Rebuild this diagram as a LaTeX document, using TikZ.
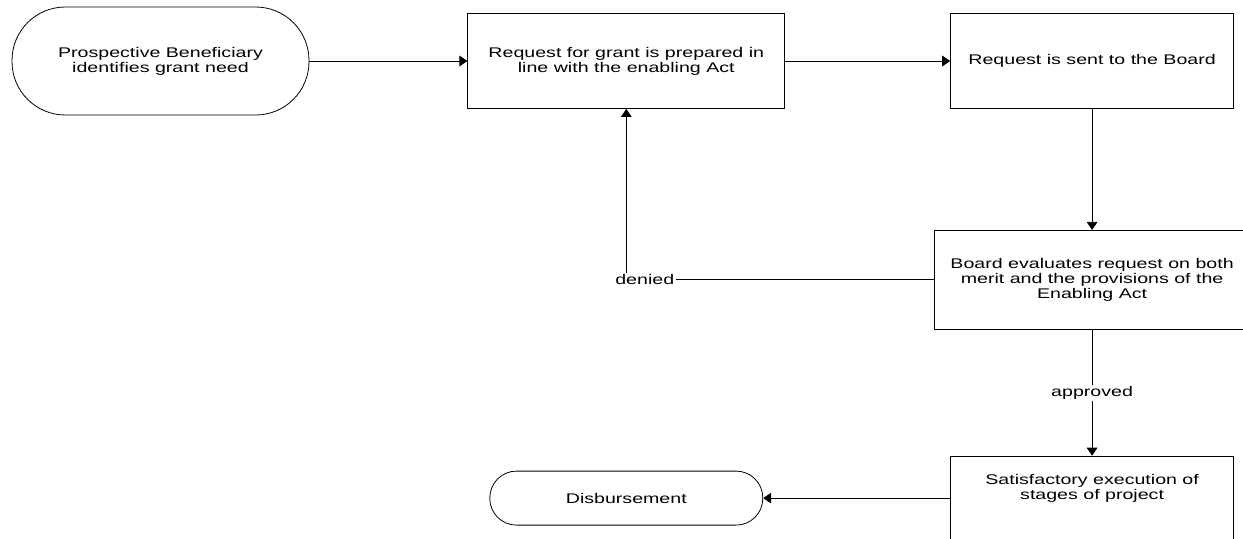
\documentclass[tikz,border=0pt]{standalone}
\usepackage{fontspec}
\setmainfont[FakeStretch=1.4]{Liberation Sans}
\usetikzlibrary{positioning,arrows.meta}
\newcommand{\flowfont}{\fontsize{10.5pt}{11.4pt}\selectfont}

\begin{document}
\begin{tikzpicture}[
  box/.style={draw, line width=0.6pt, minimum width=212.25pt, minimum height=71.25pt, align=center, font=\flowfont, inner sep=3pt},
  term/.style={box, rounded corners=40pt, minimum width=222.75pt, minimum height=81pt},
  arr/.style={-{Triangle[length=6pt, width=8pt]}, line width=0.6pt},
  lbl/.style={fill=white, font=\flowfont, inner sep=1pt}]
\useasboundingbox (0,0) rectangle (932.25pt,-404.25pt);
\clip (0,0) rectangle (932.25pt,-404.25pt);
\node[term] (need) at (120.375pt,-45.75pt) {Prospective Beneficiary\\identifies grant need};
\node[box, minimum width=237.75pt, right=118.5pt of need] (prep) {Request for grant is prepared in\\line with the enabling Act};
\node[box, right=123.75pt of prep] (send) {Request is sent to the Board};
\node[box, minimum width=237pt, minimum height=74.25pt, below=90.75pt of send] (eval) {Board evaluates request on both\\merit and the provisions of the\\Enabling Act};
\node[box, below=94.5pt of eval] (exec) {Satisfactory execution of\\stages of project\\[14pt]};
\node[term, rounded corners=20pt, minimum width=204.75pt, minimum height=40.5pt, left=140.25pt of exec, yshift=4.125pt] (disb) {Disbursement};
\draw[arr] (need) -- (prep); \draw[arr] (prep) -- (send); \draw[arr] (send) -- (eval);
\draw[arr] (eval.west) -| node[lbl, pos=0.47] {denied} (prep.south);
\draw[arr] (eval) -- node[lbl] {approved} (exec);
\draw[arr] (disb.east -| exec.west) -- (disb.east);
\end{tikzpicture}
\end{document}
